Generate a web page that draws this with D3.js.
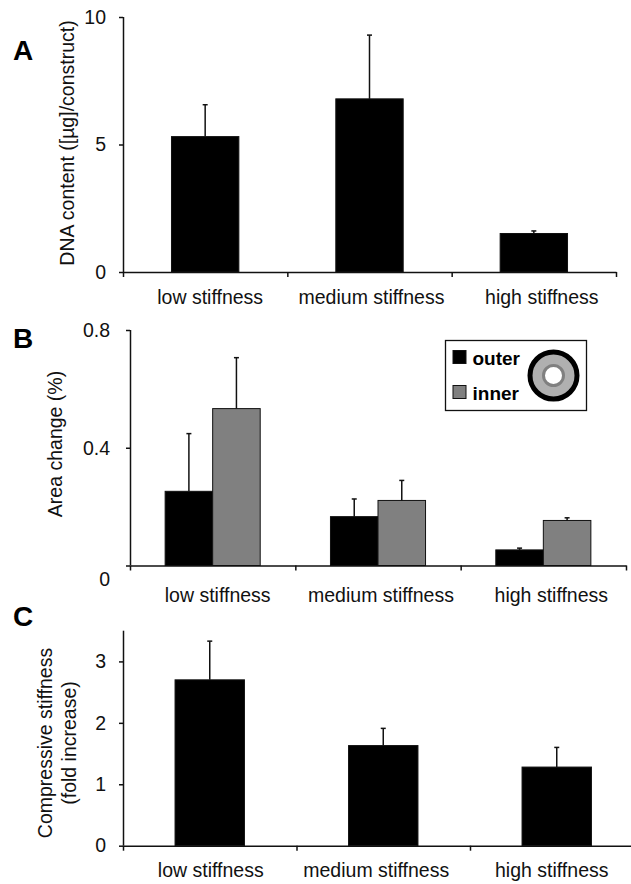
<!DOCTYPE html>
<html>
<head>
<meta charset="utf-8">
<script src="https://cdn.jsdelivr.net/npm/d3@7"></script>
<style>
  html, body { margin: 0; padding: 0; background: #fff; }
  svg text { font-family: "Liberation Sans", Arial, sans-serif; fill: #111; }
</style>
</head>
<body>
<svg id="chart" width="631" height="884"></svg>
<script>
// ---------- data ----------
const categories = ["low stiffness", "medium stiffness", "high stiffness"];

// Panel A: DNA content
const dnaMean = [5.31, 6.79, 1.51];
const dnaErr  = [1.25, 2.50, 0.10];
const dnaTicks = [0, 5, 10];

// Panel B: Area change
const seriesNames = ["outer", "inner"];
const outerMean = [0.252, 0.166, 0.053];
const outerErr  = [0.196, 0.060, 0.006];
const innerMean = [0.533, 0.221, 0.153];
const innerErr  = [0.173, 0.068, 0.009];
const areaTicks = [0, 0.4, 0.8];

// Panel C: Compressive stiffness
const stiffMean = [2.70, 1.63, 1.28];
const stiffErr  = [0.63, 0.28, 0.32];
const stiffTicks = [0, 1, 2, 3];

// ---------- drawing ----------
const svg = d3.select("#chart");
const FONT = 19.5;
const seriesColor = { outer: "#000000", inner: "#808080" };

function panel(opt) {
  const g = svg.append("g");
  const x = d3.scaleBand().domain(categories).range([opt.x0, opt.x1]).paddingInner(0).paddingOuter(0);
  const xb = d3.scaleLinear().domain([0, categories.length]).range([opt.x0, opt.x1]);
  const y = d3.scaleLinear().domain(opt.domain).range([opt.yBottom, opt.yTop]);

  // bars
  const n = opt.series.length;
  const bw = x.bandwidth() * opt.barFrac / n;
  opt.series.forEach((s, si) => {
    const offset = (si - n / 2) * bw;
    const data = s.mean.map((m, i) => ({ cat: categories[i], m, e: s.err[i] }));
    g.selectAll(null).data(data).enter().append("rect")
      .attr("x", d => x(d.cat) + x.bandwidth() / 2 + offset)
      .attr("y", d => y(d.m))
      .attr("width", bw)
      .attr("height", d => y(0) - y(d.m))
      .attr("fill", s.color)
      .attr("stroke", "#111")
      .attr("stroke-width", 1);
    // error bars
    g.selectAll(null).data(data).enter().append("line")
      .attr("x1", d => x(d.cat) + x.bandwidth() / 2 + offset + bw / 2)
      .attr("x2", d => x(d.cat) + x.bandwidth() / 2 + offset + bw / 2)
      .attr("y1", d => y(d.m))
      .attr("y2", d => y(d.m + d.e))
      .attr("stroke", "#111").attr("stroke-width", 1.5);
    g.selectAll(null).data(data).enter().append("line")
      .attr("x1", d => x(d.cat) + x.bandwidth() / 2 + offset + bw / 2 - 2.5)
      .attr("x2", d => x(d.cat) + x.bandwidth() / 2 + offset + bw / 2 + 2.5)
      .attr("y1", d => y(d.m + d.e))
      .attr("y2", d => y(d.m + d.e))
      .attr("stroke", "#111").attr("stroke-width", 1.5);
  });

  // y axis
  const ya = g.append("g").attr("transform", `translate(${opt.x0},0)`)
    .call(d3.axisLeft(y).tickValues(opt.ticks).tickFormat(opt.fmt).tickSize(4).tickPadding(opt.tickPad));
  ya.select(".domain").attr("stroke", "#111").attr("stroke-width", 1.5)
    .attr("d", `M0.5,${opt.yTop}V${opt.yBottom}`);
  ya.selectAll(".tick line").attr("stroke", "#111").attr("stroke-width", 1.5);
  ya.selectAll(".tick text").attr("font-size", FONT).attr("font-family", null).attr("fill", "#111");
  if (opt.zeroDy) ya.selectAll(".tick text").filter(d => d === 0).attr("dy", opt.zeroDy);

  // x axis (category boundaries)
  const xa = g.append("g").attr("transform", `translate(0,${opt.yBottom})`)
    .call(d3.axisBottom(xb).tickValues(d3.range(categories.length + 1)).tickFormat("").tickSize(5).tickSizeOuter(0));
  xa.select(".domain").attr("stroke", "#111").attr("stroke-width", 1.5);
  xa.selectAll(".tick line").attr("stroke", "#111").attr("stroke-width", 1.5);

  // category labels
  g.selectAll(null).data(categories).enter().append("text")
    .attr("x", (d, i) => x(d) + x.bandwidth() / 2 + opt.labelDx[i])
    .attr("y", opt.labelY)
    .attr("text-anchor", "middle")
    .attr("font-size", FONT)
    .text(d => d);

  // y title
  opt.title.forEach((t, i) => {
    g.append("text")
      .attr("transform", `translate(${opt.titleX[i]},${opt.titleY}) rotate(-90)`)
      .attr("text-anchor", "middle")
      .attr("font-size", FONT)
      .text(t);
  });

  // panel letter
  g.append("text").attr("x", 13).attr("y", opt.letterY)
    .attr("font-size", 28).attr("font-weight", "bold").style("fill", "#000")
    .text(opt.letter);
  return { g, x, y };
}

panel({
  letter: "A", letterY: 60,
  x0: 123, x1: 616, yTop: 17, yBottom: 272, domain: [0, 10],
  ticks: dnaTicks, fmt: d3.format("d"), tickPad: 13,
  barFrac: 0.41,
  series: [{ mean: dnaMean, err: dnaErr, color: "#000" }],
  labelY: 304, labelDx: [5, 2, 8],
  title: ["DNA content ([µg]/construct)"], titleX: [74], titleY: 143
});

panel({
  letter: "B", letterY: 348,
  x0: 130, x1: 626, yTop: 330, yBottom: 565.5, domain: [0, 0.8],
  ticks: areaTicks, fmt: d => d === 0 ? "0" : d3.format(".1f")(d), tickPad: 16, zeroDy: "1.05em",
  barFrac: 0.575,
  series: [
    { mean: outerMean, err: outerErr, color: seriesColor.outer },
    { mean: innerMean, err: innerErr, color: seriesColor.inner }
  ],
  labelY: 601.5, labelDx: [5, 3, 8],
  title: ["Area change (%)"], titleX: [62], titleY: 444
});

panel({
  letter: "C", letterY: 626,
  x0: 123, x1: 643.5, yTop: 630.7, yBottom: 845.7, domain: [0, 3.5],
  ticks: stiffTicks, fmt: d3.format("d"), tickPad: 13,
  barFrac: 0.40,
  series: [{ mean: stiffMean, err: stiffErr, color: "#000" }],
  labelY: 877, labelDx: [1, -7, -5],
  title: ["Compressive stiffness", "(fold increase)"], titleX: [52, 76], titleY: 743
});

// legend for panel B
const lg = svg.append("g").attr("transform", "translate(445.5,340.5)");
lg.append("rect").attr("width", 141).attr("height", 70)
  .attr("fill", "#fff").attr("stroke", "#111").attr("stroke-width", 1.3);
seriesNames.forEach((s, i) => {
  lg.append("rect").attr("x", 7.5).attr("y", 10 + i * 35).attr("width", 13).attr("height", 13)
    .attr("fill", seriesColor[s]).attr("stroke", "#111").attr("stroke-width", 1);
  lg.append("text").attr("x", 27).attr("y", 24 + i * 35.5)
    .attr("font-size", 19).attr("font-weight", "bold").style("fill", "#000")
    .text(s);
});
lg.append("circle").attr("cx", 108).attr("cy", 35).attr("r", 23.5)
  .attr("fill", "#b0b0b0").attr("stroke", "#000").attr("stroke-width", 5);
lg.append("circle").attr("cx", 108).attr("cy", 35).attr("r", 10)
  .attr("fill", "#fff").attr("stroke", "#808080").attr("stroke-width", 3);
</script>
</body>
</html>
